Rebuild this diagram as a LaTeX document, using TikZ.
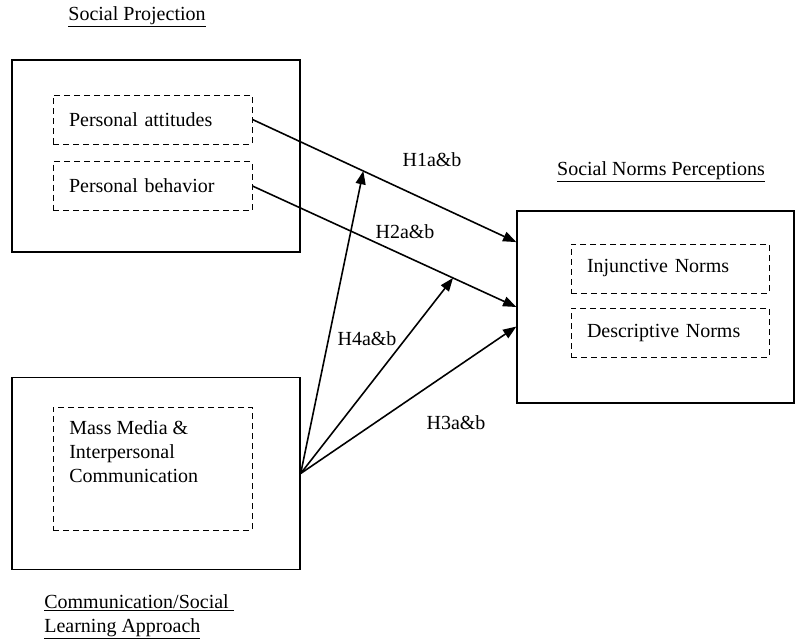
\documentclass[tikz,border=0pt]{standalone}
\usepackage{fontspec}
\setmainfont{Liberation Serif}
\usetikzlibrary{arrows.meta}
\newcommand{\pxu}{0.6pt}

\begin{document}
\begin{tikzpicture}[x=\pxu,y=-\pxu,font=\fontsize{12}{14.4}\selectfont,>={Triangle[length=2.8mm,width=2.1mm]},
  outer/.style={draw,line width=0.8pt,minimum width=288*\pxu,minimum height=192*\pxu},
  dashbox/.style={draw,dash pattern=on 3.6pt off 2.4pt,line width=0.6pt,text width=100.2pt,align=left,inner xsep=9.6pt,inner ysep=0pt,minimum height=49*\pxu},
  link/.style={->,line width=0.95pt},
  hyp/.style={inner sep=1pt}]
  \useasboundingbox (0,0) rectangle (795,640);
  % the three blocks
  \node[outer] (proj) at (156,156) {};
  \node[outer] (comm) at (156,473.5) {};
  \node[outer,minimum width=277*\pxu] (norms) at (655.5,307) {};
  \node[dashbox] (att) at (152.5,119.5) {Personal attitudes};
  \node[dashbox] (beh) at (152.5,186) {Personal behavior};
  \node[dashbox,minimum height=123*\pxu] (media) at (152.5,468.5) {};
  \node[anchor=north west,inner sep=0pt,align=left] (mediatext) at (69,420) {Mass Media \&\\Interpersonal\\Communication};
  \node[dashbox,text width=99.6pt] (inj) at (670,268.5) {Injunctive Norms};
  \node[dashbox,text width=99.6pt] (desc) at (670,332.5) {Descriptive Norms};
  % headings
  \node (projlab) at (137,17) {\underline{Social Projection}};
  \node (normslab) at (661,172) {\underline{Social Norms Perceptions}};
  \node[anchor=west,align=left,inner sep=0pt] (commlab) at (44,617) {\underline{Communication/Social\ }\\\underline{Learning Approach}};
  % paths
  \draw[link] (att.east) -- (norms.155) coordinate[pos=0.42] (onH1);
  \draw[link] (beh.east) -- (norms.west) coordinate[pos=0.76] (onH2);
  \draw[link] (comm.east) -- (norms.188);
  \draw[link] (comm.east) -- (onH1);
  \draw[link] (comm.east) -- (onH2);
  \node[hyp] (h1) at (432,160) {H1a\&b};
  \node[hyp] (h2) at (405,232) {H2a\&b};
  \node[hyp] (h4) at (367,339) {H4a\&b};
  \node[hyp] (h3) at (456,423) {H3a\&b};
\end{tikzpicture}
\end{document}
